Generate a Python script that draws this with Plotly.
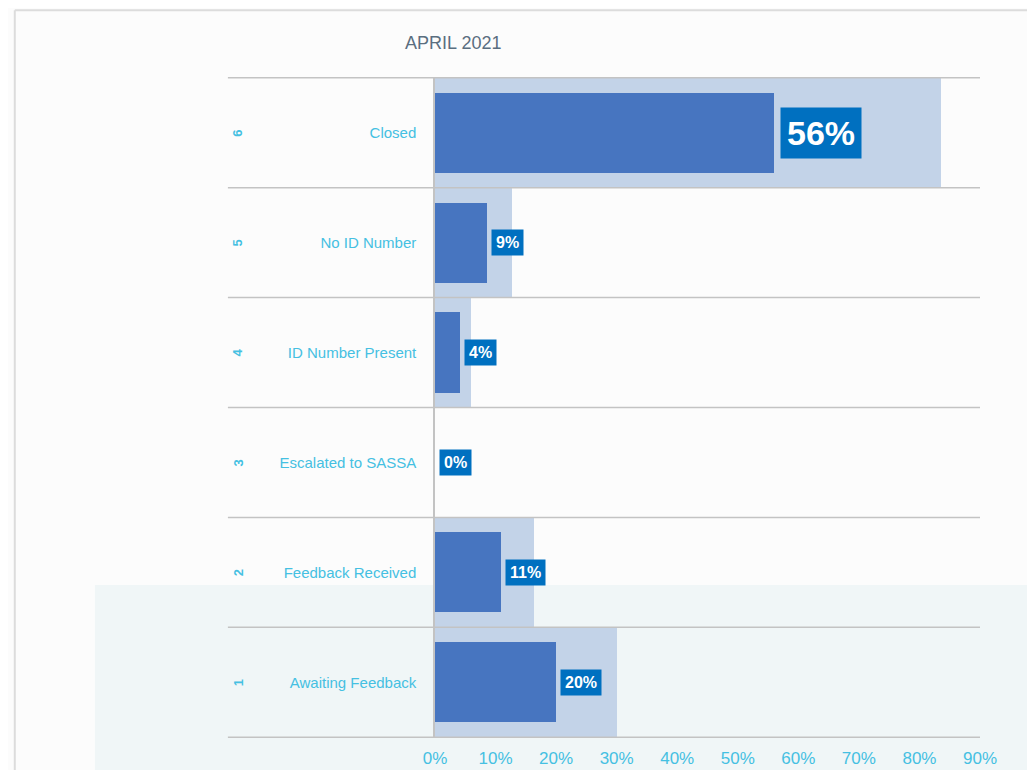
import plotly.graph_objects as go

# Data
categories = ['Closed', 'No ID Number', 'ID Number Present', 'Escalated to SASSA',
              'Feedback Received', 'Awaiting Feedback']
row_numbers = ['6', '5', '4', '3', '2', '1']
share = [0.56, 0.086, 0.041, 0.0, 0.109, 0.20]
share_labels = ['56%', '9%', '4%', '0%', '11%', '20%']
backdrop = [0.836, 0.127, 0.059, 0.0, 0.163, 0.301]
tick_vals = [0, 0.1, 0.2, 0.3, 0.4, 0.5, 0.6, 0.7, 0.8, 0.9]

cyan = '#45c0e2'
grid = '#c3c3c3'

fig = go.Figure()

# light backdrop bars filling the whole row
fig.add_trace(go.Bar(y=categories, x=backdrop, orientation='h', width=1.0,
                     marker=dict(color='#c3d3e8', line=dict(width=0)),
                     showlegend=False, hoverinfo='skip'))
# main bars
fig.add_trace(go.Bar(y=categories, x=share, orientation='h', width=0.73,
                     marker=dict(color='#4775c0', line=dict(width=0)),
                     showlegend=False))

# value labels in blue boxes
for i, (cat, val, lab) in enumerate(zip(categories, share, share_labels)):
    big = i == 0
    fig.add_annotation(x=val, y=cat, text='<b>%s</b>' % lab, showarrow=False,
                       xanchor='left', xshift=6 if big else 4,
                       bgcolor='#0070c0', borderpad=6 if big else 4,
                       font=dict(size=34 if big else 16, color='white',
                                 family='Liberation Sans, Arial'))

# rotated row numbers on the far left
for cat, num in zip(categories, row_numbers):
    fig.add_annotation(x=-0.3615, y=cat, xref='paper', xanchor='center',
                       text='<b>%s</b>' % num, showarrow=False, textangle=-90,
                       font=dict(size=13, color=cyan, family='Liberation Sans, Arial'))

# horizontal row separators extending into the label area
for k in range(len(categories) + 1):
    fig.add_shape(type='line', xref='paper', yref='y', x0=-0.38, x1=1.0,
                  y0=k - 0.5, y1=k - 0.5, line=dict(color=grid, width=1.5),
                  layer='above')

# page decoration: border and pale panel at the bottom
fig.add_shape(type='rect', xref='paper', yref='paper', x0=-0.624, x1=1.2,
              y0=-0.1, y1=0.2315, fillcolor='#f0f6f7', line=dict(width=0),
              layer='below')
fig.add_shape(type='line', xref='paper', yref='paper', x0=-0.771, x1=1.2,
              y0=1.101, y1=1.101, line=dict(color='#dcdcdc', width=2))
fig.add_shape(type='line', xref='paper', yref='paper', x0=-0.771, x1=-0.771,
              y0=1.101, y1=-0.1, line=dict(color='#dcdcdc', width=2))

fig.update_xaxes(range=[0, 0.9], tickvals=tick_vals, tickformat='.0%',
                 showgrid=False, zeroline=False, showline=False,
                 automargin=False, ticklabelstandoff=8,
                 tickfont=dict(size=17, color=cyan, family='Liberation Sans, Arial'))
fig.update_yaxes(autorange='reversed', showgrid=False, zeroline=False,
                 showline=True, linecolor=grid, linewidth=1.5,
                 automargin=False, ticklabelstandoff=14,
                 tickfont=dict(size=15, color=cyan, family='Liberation Sans, Arial'))

fig.update_layout(
    width=1027, height=762,
    margin=dict(l=427, r=55, t=69, b=32, autoexpand=False),
    barmode='overlay',
    bargap=0,
    title=dict(text='APRIL 2021', x=0.3866, xanchor='left', y=0.955,
               yanchor='middle', automargin=False,
               font=dict(size=18, color='#5a6e80', family='Liberation Sans, Arial')),
    plot_bgcolor='rgba(0,0,0,0)',
    paper_bgcolor='#fcfcfc',
)

fig.write_html('out.html')
